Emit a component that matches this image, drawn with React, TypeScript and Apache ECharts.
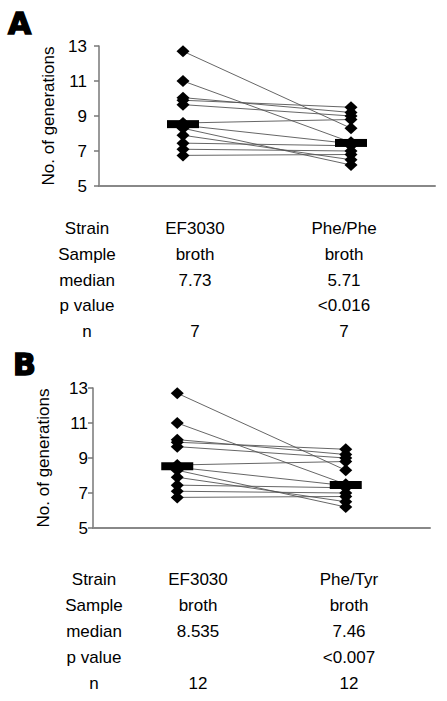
import { useEffect, useRef } from "react";
import * as echarts from "echarts";

const groupX = [1, 3];
const before = [12.7, 11.0, 10.05, 9.9, 9.65, 8.6, 8.47, 8.3, 7.9, 7.45, 7.1, 6.75];
const after = [8.3, 7.5, 9.2, 9.5, 9.0, 8.8, 7.42, 6.2, 6.5, 7.3, 7.0, 6.8];
const medians = [8.535, 7.46];
const yMin = 5;
const yMax = 13;
const yStep = 2;

// Tables
const rowLabels = ["Strain", "Sample", "median", "p value", "n"];
const tableACol1 = ["EF3030", "broth", "7.73", "", "7"];
const tableACol2 = ["Phe/Phe", "broth", "5.71", "<0.016", "7"];
const tableBCol1 = ["EF3030", "broth", "8.535", "", "12"];
const tableBCol2 = ["Phe/Tyr", "broth", "7.46", "<0.007", "12"];

const FONT = "'Liberation Sans', Arial, Helvetica, sans-serif";

const panels = [
  {
    letter: "A",
    letterX: 8,
    letterY: 23,
    grid: { left: 99, top: 46, width: 336, height: 140 },
    labelMargin: 12,
    nameGap: 42,
    cols: [87, 195, 344],
    rowsY: [228, 254, 280, 305, 331],
    table: [rowLabels, tableACol1, tableACol2],
  },
  {
    letter: "B",
    letterX: 13,
    letterY: 364,
    grid: { left: 93, top: 388, width: 337, height: 140 },
    labelMargin: 5,
    nameGap: 41,
    cols: [94, 198, 349],
    rowsY: [579, 605, 631, 657, 683],
    table: [rowLabels, tableBCol1, tableBCol2],
  },
];

export default function App() {
  const ref = useRef<HTMLDivElement>(null);
  useEffect(() => {
    if (!ref.current) return;
    const chart = echarts.init(ref.current, null, { renderer: "svg" });

    const grids: any[] = [];
    const xAxes: any[] = [];
    const yAxes: any[] = [];
    const series: any[] = [];
    const graphics: any[] = [];

    panels.forEach((p, pi) => {
      grids.push({ ...p.grid, containLabel: false });
      xAxes.push({
        type: "value",
        gridIndex: pi,
        min: 0,
        max: 4,
        axisLine: { show: true, onZero: false, lineStyle: { color: "#888", width: 2 } },
        axisTick: { show: false },
        axisLabel: { show: false },
        splitLine: { show: false },
      });
      yAxes.push({
        type: "value",
        gridIndex: pi,
        min: yMin,
        max: yMax,
        interval: yStep,
        name: "No. of generations",
        nameLocation: "middle",
        nameRotate: 90,
        nameGap: p.nameGap,
        nameTextStyle: { fontSize: 17, fontFamily: FONT, color: "#000" },
        axisLine: { show: true, lineStyle: { color: "#777", width: 1.5 } },
        axisTick: { show: true, length: 5, lineStyle: { color: "#777", width: 1.5 } },
        axisLabel: { fontSize: 17, fontFamily: FONT, color: "#000", margin: p.labelMargin },
        splitLine: { show: false },
      });
      before.forEach((b, i) => {
        series.push({
          type: "line",
          xAxisIndex: pi,
          yAxisIndex: pi,
          data: [
            [groupX[0], b],
            [groupX[1], after[i]],
          ],
          symbol: "none",
          silent: true,
          lineStyle: { color: "#555", width: 0.9 },
          z: 1,
        });
      });
      series.push({
        type: "scatter",
        xAxisIndex: pi,
        yAxisIndex: pi,
        data: before.map((v) => [groupX[0], v]).concat(after.map((v) => [groupX[1], v])),
        symbol: "diamond",
        symbolSize: [13, 12],
        itemStyle: { color: "#000", opacity: 1 },
        silent: true,
        z: 3,
      });
      series.push({
        type: "scatter",
        xAxisIndex: pi,
        yAxisIndex: pi,
        data: medians.map((m, i) => [groupX[i], m]),
        symbol: "rect",
        symbolSize: [32, 8],
        itemStyle: { color: "#000", opacity: 1 },
        silent: true,
        z: 4,
      });

      graphics.push({
        type: "text",
        x: p.letterX,
        y: p.letterY,
        style: {
          text: p.letter,
          fontSize: 30,
          fontWeight: "bold",
          fontFamily: "'DejaVu Sans', sans-serif",
          fill: "#000",
          stroke: "#000",
          lineWidth: 1.5,
          align: "left",
          verticalAlign: "middle",
        },
      });
      p.table.forEach((col, ci) => {
        col.forEach((t, ri) => {
          if (!t) return;
          graphics.push({
            type: "text",
            x: p.cols[ci],
            y: p.rowsY[ri],
            style: {
              text: t,
              fontSize: 17,
              fontFamily: FONT,
              fill: "#000",
              align: "center",
              verticalAlign: "middle",
            },
          });
        });
      });
    });

    chart.setOption({
      animation: false,
      backgroundColor: "#fff",
      grid: grids,
      xAxis: xAxes,
      yAxis: yAxes,
      series,
      graphic: graphics,
    });
    return () => chart.dispose();
  }, []);

  return (
    <div
      ref={ref}
      style={{ position: "absolute", left: 0, top: 0, width: 447, height: 701, background: "#fff" }}
    />
  );
}
